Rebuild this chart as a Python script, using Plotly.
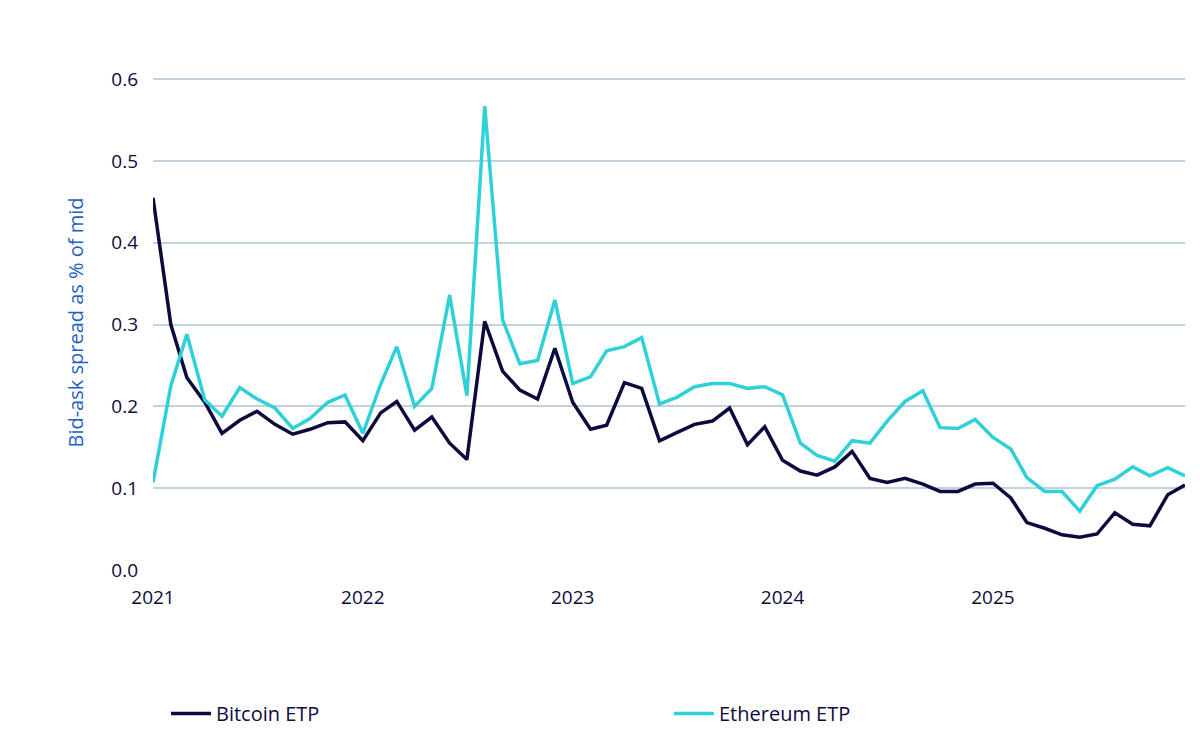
import pandas as pd
from plotly import graph_objs as go

# datos mensuales ene 2021 - dic 2025 (% del mid)
meses = pd.date_range("2021-01-01", "2025-12-01", freq="MS")

bitcoin = [0.455, 0.30, 0.235, 0.205, 0.167, 0.183, 0.194, 0.178, 0.166, 0.172, 0.18, 0.181,
           0.158, 0.192, 0.206, 0.171, 0.187, 0.155, 0.135, 0.304, 0.243, 0.22, 0.209, 0.271,
           0.205, 0.172, 0.177, 0.229, 0.222, 0.158, 0.168, 0.178, 0.182, 0.198, 0.153, 0.175,
           0.134, 0.121, 0.116, 0.126, 0.145, 0.112, 0.107, 0.112, 0.105, 0.096, 0.096, 0.105,
           0.106, 0.088, 0.058, 0.051, 0.043, 0.040, 0.044, 0.070, 0.056, 0.054, 0.092, 0.104]

ethereum = [0.107, 0.225, 0.288, 0.208, 0.188, 0.223, 0.209, 0.198, 0.173, 0.185, 0.205, 0.214,
            0.167, 0.227, 0.273, 0.200, 0.222, 0.336, 0.213, 0.567, 0.306, 0.252, 0.256, 0.330,
            0.228, 0.236, 0.268, 0.273, 0.284, 0.203, 0.211, 0.224, 0.228, 0.228, 0.222, 0.224,
            0.214, 0.155, 0.140, 0.133, 0.158, 0.155, 0.182, 0.206, 0.219, 0.174, 0.173, 0.184,
            0.162, 0.148, 0.113, 0.096, 0.096, 0.072, 0.103, 0.111, 0.126, 0.115, 0.125, 0.115]

anios = ["2021-01-01", "2022-01-01", "2023-01-01", "2024-01-01", "2025-01-01"]
anios_txt = ["2021", "2022", "2023", "2024", "2025"]

fig = go.Figure()
fig.add_trace(go.Scatter(x=meses, y=bitcoin, mode="lines", name="Bitcoin ETP",
                         line=dict(color="#0c0a3e", width=3.5)))
fig.add_trace(go.Scatter(x=meses, y=ethereum, mode="lines", name="Ethereum ETP",
                         line=dict(color="#2fd0d8", width=3.5)))

fig.update_xaxes(range=[meses[0], meses[-1]], tickvals=anios, ticktext=anios_txt,
                 showgrid=False, showline=False, zeroline=False, ticks="",
                 automargin=False, ticklabelstandoff=14)
fig.update_yaxes(range=[0, 0.605], tickvals=[0, 0.1, 0.2, 0.3, 0.4, 0.5, 0.6],
                 tickformat=".1f", ticksuffix="%", automargin=False, ticklabelstandoff=14,
                 gridcolor="#c5d1dc", gridwidth=1.5, zeroline=False,
                 title=dict(text="Bid-ask spread as % of mid", font=dict(color="#1f5fc8", size=20),
                            standoff=22))

fig.update_layout(width=1200, height=738, plot_bgcolor="white", paper_bgcolor="white",
                  font=dict(family="Open Sans", size=19, color="#0c0a3e"),
                  margin=dict(l=145, r=23, t=67, b=176),
                  legend=dict(orientation="h", x=0.5, xanchor="center", y=-0.29, yanchor="middle",
                              font=dict(size=20), itemwidth=40, entrywidthmode="pixels",
                              entrywidth=448))
fig.write_html("out.html")
